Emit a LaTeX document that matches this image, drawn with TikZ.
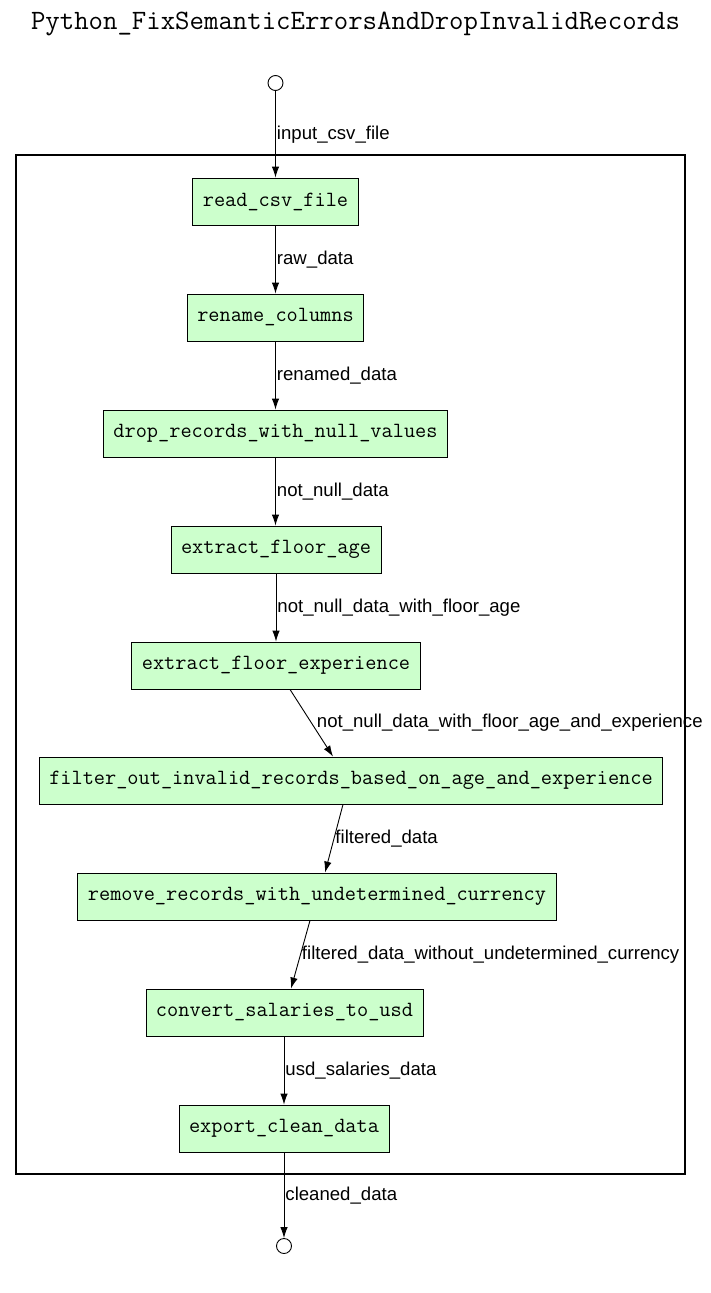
\documentclass[tikz,border=0pt]{standalone}
\usepackage{fontspec}
\setmainfont{Liberation Sans}
\usetikzlibrary{arrows.meta, positioning, calc}
\definecolor{boxgreen}{HTML}{CCFFCC}

\tikzset{
  stepbox/.style={draw, fill=boxgreen, rectangle, minimum height=47pt, inner xsep=10pt, line width=0.9pt,
    font=\ttfamily\fontsize{21.7}{24}\selectfont},
  port/.style={draw, circle, minimum size=15pt, inner sep=0pt, line width=0.9pt},
  lbl/.style={anchor=west, inner xsep=1pt, font=\fontsize{18.6}{21}\selectfont},
  flow/.style={->, line width=0.9pt}
}

\begin{document}
\begin{tikzpicture}[x=1pt,y=-1pt,>={Latex[length=11pt,width=7.5pt]}]
\useasboundingbox (0,0) rectangle (711,1293);

% title and cluster frame
\node[font=\ttfamily\fontsize{28}{30}\selectfont] (title) at (355.5,24) {Python\_FixSemanticErrorsAndDropInvalidRecords};
\draw[line width=2pt] (16,155) rectangle (685,1174);

% the ports
\node[port] (in) at (275.5,83) {};
\node[port] (out) at (284,1246) {};

% the steps
\node[stepbox] (read) at (275.5,201.5) {read\_csv\_file};
\node[stepbox] (rename) at (275.5,317.5) {rename\_columns};
\node[stepbox] (drop) at (275.5,433.5) {drop\_records\_with\_null\_values};
\node[stepbox] (age) at (276,549.5) {extract\_floor\_age};
\node[stepbox] (exper) at (276,665.5) {extract\_floor\_experience};
\node[stepbox] (filt) at (351,780.5) {filter\_out\_invalid\_records\_based\_on\_age\_and\_experience};
\node[stepbox] (remove) at (317,896.5) {remove\_records\_with\_undetermined\_currency};
\node[stepbox] (usd) at (284.5,1012.5) {convert\_salaries\_to\_usd};
\node[stepbox] (export) at (284,1128.5) {export\_clean\_data};

% the arrows and labels
\draw[flow] (in.south) -- (read.north) node[lbl,pos=0.5] {input\_csv\_file};
\draw[flow] (read) -- (rename) node[lbl,pos=0.5] {raw\_data};
\draw[flow] (rename) -- (drop) node[lbl,pos=0.5] {renamed\_data};
\draw[flow] (drop.south) -- (age.north -| drop.south) node[lbl,pos=0.5] {not\_null\_data};
\draw[flow] (age) -- (exper) node[lbl,pos=0.5] {not\_null\_data\_with\_floor\_age};
\draw[flow] ([xshift=14pt]exper.south) -- ([xshift=-18pt]filt.north) node[lbl,pos=0.5,xshift=4pt] {not\_null\_data\_with\_floor\_age\_and\_experience};
\draw[flow] ([xshift=-8pt]filt.south) -- ([xshift=8pt]remove.north) node[lbl,pos=0.5] {filtered\_data};
\draw[flow] ([xshift=-7pt]remove.south) -- ([xshift=6.5pt]usd.north) node[lbl,pos=0.5] {filtered\_data\_without\_undetermined\_currency};
\draw[flow] (usd.south -| export.south) -- (export.north) node[lbl,pos=0.5] {usd\_salaries\_data};
\draw[flow] (export.south) -- (out.north) node[lbl,pos=0.5] {cleaned\_data};
\end{tikzpicture}
\end{document}
